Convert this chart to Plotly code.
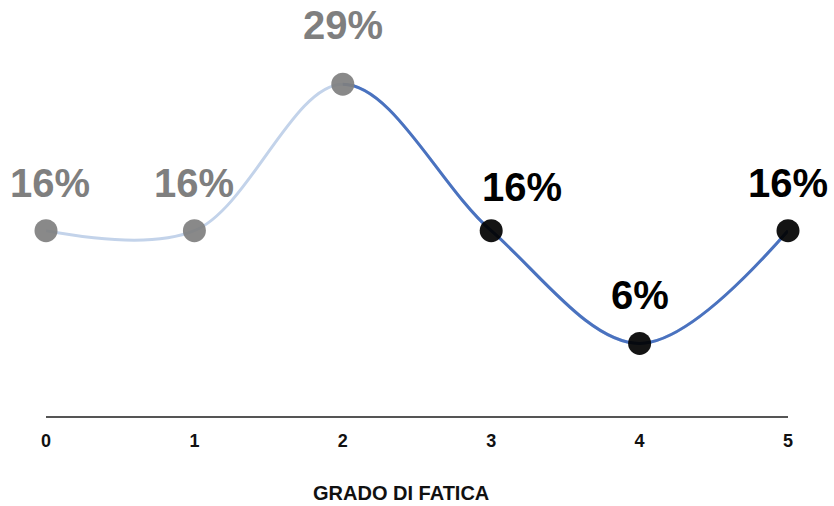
import plotly.graph_objects as go

# Fatigue grade (0-5) and share of respondents (%)
grades = [0, 1, 2, 3, 4, 5]
percent = [16, 16, 29, 16, 6, 16]
highlight_from = 2  # grades from here on are drawn with the strong colour
x_title = "GRADO DI FATICA"

GREY = "#7f7f7f"
BLACK = "#000000"
LIGHT_BLUE = "#c3d3ea"
DARK_BLUE = "#4a72bf"

LABEL_FONT = "Liberation Sans, Arial, sans-serif"
AXIS_FONT = "Liberation Sans Narrow, Liberation Sans, Arial, sans-serif"

point_colors = [GREY if g <= highlight_from else BLACK for g in grades]

# label placement tweaks (pixels), keyed by grade
label_yshift = {2: 35, 3: 20}
label_xshift = {0: 4, 3: 31}

fig = go.Figure()

# Full smoothed curve in the light colour
fig.add_trace(go.Scatter(
    x=grades, y=percent, mode="lines",
    line=dict(color=LIGHT_BLUE, width=3, shape="spline"),
    hoverinfo="skip", xaxis="x", yaxis="y",
))

# Markers left of the highlighted part
left = [i for i, g in enumerate(grades) if g < highlight_from]
fig.add_trace(go.Scatter(
    x=[grades[i] for i in left], y=[percent[i] for i in left], mode="markers",
    marker=dict(size=23, color=[point_colors[i] for i in left], opacity=0.92,
                line=dict(width=0)),
    cliponaxis=False, hoverinfo="skip", xaxis="x", yaxis="y",
))

# Same curve on an overlaid axis whose domain starts at the highlight grade,
# so only the right-hand part is drawn in the strong colour
fig.add_trace(go.Scatter(
    x=grades, y=percent, mode="lines",
    line=dict(color=DARK_BLUE, width=3, shape="spline"),
    hoverinfo="skip", xaxis="x2", yaxis="y",
))

# Markers of the highlighted part, above the strong curve
right = [i for i, g in enumerate(grades) if g >= highlight_from]
fig.add_trace(go.Scatter(
    x=[grades[i] for i in right], y=[percent[i] for i in right], mode="markers",
    marker=dict(size=23, color=[point_colors[i] for i in right], opacity=0.92,
                line=dict(width=0)),
    cliponaxis=False, hoverinfo="skip", xaxis="x2", yaxis="y",
))

# Value labels
for g, v, c in zip(grades, percent, point_colors):
    fig.add_annotation(
        x=g, y=v, xref="x", yref="y", text=f"{v}%", showarrow=False,
        yanchor="bottom", yshift=label_yshift.get(g, 24),
        xshift=label_xshift.get(g, 0),
        font=dict(family=LABEL_FONT, size=40, color=c, weight="bold"),
    )

# Axis title, sitting slightly left of centre
fig.add_annotation(
    x=0.478, y=0, xref="paper", yref="paper", text=x_title, showarrow=False,
    yanchor="top", yshift=-64,
    font=dict(family=LABEL_FONT, size=20, color="#111111", weight="bold"),
)

x_min, x_max = grades[0], grades[-1]
split = (highlight_from - x_min) / (x_max - x_min)

fig.update_layout(
    width=834, height=506,
    margin=dict(l=46, r=46, t=20, b=90, autoexpand=False),
    paper_bgcolor="white", plot_bgcolor="rgba(0,0,0,0)",
    showlegend=False,
    xaxis=dict(
        range=[x_min, x_max], domain=[0, 1], automargin=False,
        tickvals=grades, ticktext=[str(g) for g in grades],
        showgrid=False, zeroline=False,
        showline=True, linecolor="#555555", linewidth=2,
        ticks="", ticklabelstandoff=7,
        tickfont=dict(family=AXIS_FONT, size=18, color="#111111", weight="bold"),
    ),
    xaxis2=dict(
        range=[highlight_from, x_max], domain=[split, 1], anchor="y",
        visible=False, showgrid=False, zeroline=False, automargin=False,
    ),
    yaxis=dict(
        range=[-0.44, 34.7], visible=False, showgrid=False, zeroline=False,
        automargin=False,
    ),
)

fig.write_html("out.html")
